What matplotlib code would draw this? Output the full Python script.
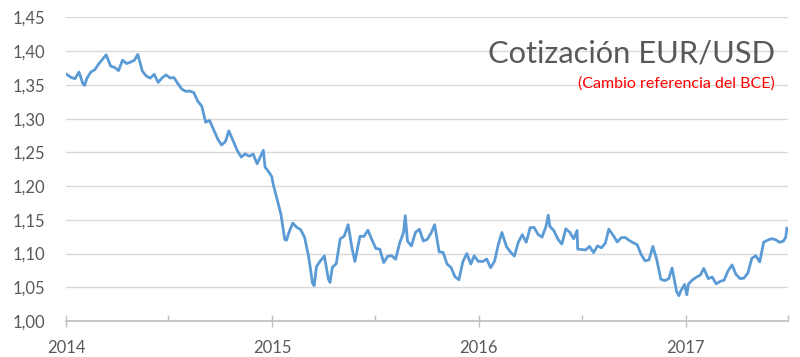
import matplotlib
matplotlib.use("Agg")
import matplotlib.pyplot as plt
from matplotlib.ticker import FuncFormatter, MultipleLocator
import pandas as pd

plt.rcParams['font.family'] = ['Lato', 'DejaVu Sans']

dates = [
    "2014-01-02", "2014-01-10", "2014-01-17", "2014-01-24", "2014-01-31", "2014-02-03", "2014-02-07",
    "2014-02-14", "2014-02-21", "2014-02-28", "2014-03-07", "2014-03-13", "2014-03-21", "2014-03-28",
    "2014-04-04", "2014-04-11", "2014-04-18", "2014-04-25", "2014-05-02", "2014-05-08", "2014-05-16",
    "2014-05-23", "2014-05-30", "2014-06-06", "2014-06-13", "2014-06-20", "2014-06-27", "2014-07-04",
    "2014-07-11", "2014-07-18", "2014-07-25", "2014-08-01", "2014-08-08", "2014-08-15", "2014-08-22",
    "2014-08-29", "2014-09-05", "2014-09-12", "2014-09-19", "2014-09-26", "2014-10-03", "2014-10-10",
    "2014-10-16", "2014-10-24", "2014-10-31", "2014-11-07", "2014-11-14", "2014-11-21", "2014-11-28",
    "2014-12-05", "2014-12-16", "2014-12-19", "2014-12-26", "2014-12-31",
    "2015-01-02", "2015-01-09", "2015-01-16", "2015-01-23", "2015-01-26", "2015-01-30", "2015-02-06",
    "2015-02-13", "2015-02-20", "2015-02-27", "2015-03-06", "2015-03-13", "2015-03-16", "2015-03-20",
    "2015-03-27", "2015-04-03", "2015-04-10", "2015-04-13", "2015-04-17", "2015-04-24", "2015-05-01",
    "2015-05-08", "2015-05-15", "2015-05-22", "2015-05-27", "2015-06-05", "2015-06-12", "2015-06-19",
    "2015-06-26", "2015-07-03", "2015-07-10", "2015-07-17", "2015-07-24", "2015-07-31", "2015-08-07",
    "2015-08-14", "2015-08-21", "2015-08-24", "2015-08-28", "2015-09-04", "2015-09-11", "2015-09-18",
    "2015-09-25", "2015-10-02", "2015-10-09", "2015-10-15", "2015-10-23", "2015-10-30", "2015-11-06",
    "2015-11-13", "2015-11-20", "2015-11-27", "2015-12-04", "2015-12-11", "2015-12-18", "2015-12-24",
    "2015-12-31",
    "2016-01-08", "2016-01-15", "2016-01-22", "2016-01-29", "2016-02-05", "2016-02-11", "2016-02-19",
    "2016-02-26", "2016-03-04", "2016-03-11", "2016-03-18", "2016-03-25", "2016-04-01", "2016-04-08",
    "2016-04-15", "2016-04-22", "2016-04-29", "2016-05-03", "2016-05-06", "2016-05-13", "2016-05-20",
    "2016-05-27", "2016-06-03", "2016-06-10", "2016-06-17", "2016-06-23", "2016-06-24", "2016-07-01",
    "2016-07-08", "2016-07-15", "2016-07-22", "2016-07-29", "2016-08-05", "2016-08-12", "2016-08-18",
    "2016-08-26", "2016-09-02", "2016-09-09", "2016-09-16", "2016-09-23", "2016-09-30", "2016-10-07",
    "2016-10-14", "2016-10-21", "2016-10-28", "2016-11-04", "2016-11-11", "2016-11-18", "2016-11-25",
    "2016-12-02", "2016-12-08", "2016-12-16", "2016-12-20", "2016-12-23", "2016-12-30",
    "2017-01-03", "2017-01-06", "2017-01-13", "2017-01-20", "2017-01-27", "2017-02-02", "2017-02-10",
    "2017-02-17", "2017-02-24", "2017-03-03", "2017-03-10", "2017-03-17", "2017-03-24", "2017-03-31",
    "2017-04-07", "2017-04-14", "2017-04-21", "2017-04-28", "2017-05-05", "2017-05-12", "2017-05-19",
    "2017-05-26", "2017-06-02", "2017-06-09", "2017-06-16", "2017-06-23", "2017-06-27", "2017-06-29",
]

eur_usd = [
    1.3658, 1.3611, 1.3593, 1.3691, 1.3516, 1.3495, 1.3598,
    1.3692, 1.3727, 1.3813, 1.3884, 1.3946, 1.3780, 1.3759,
    1.3713, 1.3869, 1.3817, 1.3838, 1.3866, 1.3953, 1.3705,
    1.3632, 1.3601, 1.3658, 1.3537, 1.3606, 1.3649, 1.3604,
    1.3608, 1.3518, 1.3437, 1.3405, 1.3409, 1.3387, 1.3260,
    1.3188, 1.2948, 1.2973, 1.2838, 1.2705, 1.2609, 1.2660,
    1.2820, 1.2665, 1.2526, 1.2430, 1.2478, 1.2443, 1.2475,
    1.2331, 1.2531, 1.2285, 1.2205, 1.2141,
    1.2043, 1.1813, 1.1588, 1.1206, 1.1198, 1.1305, 1.1452,
    1.1390, 1.1354, 1.1240, 1.0963, 1.0561, 1.0524, 1.0807,
    1.0893, 1.0963, 1.0624, 1.0572, 1.0794, 1.0850, 1.1219,
    1.1258, 1.1428, 1.1070, 1.0882, 1.1257, 1.1254, 1.1347,
    1.1206, 1.1076, 1.1065, 1.0866, 1.0960, 1.0967, 1.0916,
    1.1153, 1.1312, 1.1562, 1.1185, 1.1113, 1.1312, 1.1361,
    1.1186, 1.1211, 1.1309, 1.1428, 1.1025, 1.1017, 1.0844,
    1.0794, 1.0656, 1.0612, 1.0883, 1.1000, 1.0844, 1.0967,
    1.0887,
    1.0882, 1.0920, 1.0790, 1.0888, 1.1146, 1.1313, 1.1104,
    1.1025, 1.0963, 1.1168, 1.1279, 1.1168, 1.1385, 1.1387,
    1.1283, 1.1244, 1.1403, 1.1569, 1.1400, 1.1338, 1.1214,
    1.1141, 1.1367, 1.1316, 1.1218, 1.1342, 1.1066, 1.1060,
    1.1053, 1.1106, 1.1014, 1.1113, 1.1086, 1.1154, 1.1362,
    1.1268, 1.1172, 1.1236, 1.1238, 1.1196, 1.1161, 1.1135,
    1.0992, 1.0893, 1.0906, 1.1106, 1.0904, 1.0620, 1.0598,
    1.0627, 1.0785, 1.0437, 1.0375, 1.0441, 1.0541,
    1.0389, 1.0550, 1.0610, 1.0650, 1.0681, 1.0780, 1.0629,
    1.0652, 1.0550, 1.0588, 1.0606, 1.0744, 1.0831, 1.0691,
    1.0630, 1.0635, 1.0711, 1.0930, 1.0967, 1.0876, 1.1170,
    1.1198, 1.1221, 1.1206, 1.1167, 1.1185, 1.1244, 1.1375,
]

year_labels = ["2014", "2015", "2016", "2017"]
title = "Cotización EUR/USD"
subtitle = "(Cambio referencia del BCE)"

x = pd.to_datetime(dates)

fig = plt.figure(figsize=(8, 3.57), dpi=100)
ax = fig.add_axes([0.0825, 0.1008, 0.9025, 0.8502])

ax.plot(x, eur_usd, color="#5b9bd5", lw=2.0, solid_joinstyle="round", zorder=3)

ax.set_ylim(1.00, 1.45)
ax.set_xlim(pd.Timestamp("2014-01-01"), pd.Timestamp("2017-06-29"))
ax.yaxis.set_major_locator(MultipleLocator(0.05))
ax.yaxis.set_major_formatter(FuncFormatter(lambda v, p: f"{v:.2f}".replace(".", ",")))

years = [pd.Timestamp(f"{y}-01-01") for y in year_labels]
ax.set_xticks(years)
ax.set_xticklabels(year_labels)
ax.set_xticks([pd.Timestamp(f"{y}-07-01") for y in year_labels], minor=True)

ax.grid(axis="y", color="#d9d9d9", lw=1, zorder=0)
for s in ["top", "right", "left"]:
    ax.spines[s].set_visible(False)
ax.spines["bottom"].set_color("#bfbfbf")
ax.spines["bottom"].set_linewidth(1.2)

ax.tick_params(axis="y", length=0, pad=15, labelsize=12, labelcolor="#595959")
ax.tick_params(axis="x", which="major", direction="inout", length=9, width=1,
               color="#bfbfbf", pad=9, labelsize=12, labelcolor="#595959")
ax.tick_params(axis="x", which="minor", direction="in", length=4, width=1, color="#bfbfbf")

fig.text(775 / 800, 1 - 53 / 357, title, ha="right", va="center", fontsize=22.2, color="#595959")
fig.text(775 / 800, 1 - 84 / 357, subtitle, ha="right", va="center", fontsize=11.5, color="#ff0000")

fig.savefig("out.png", dpi=100)
